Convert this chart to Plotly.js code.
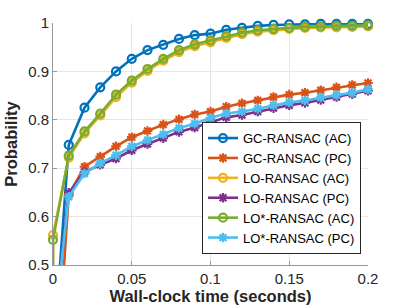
<!DOCTYPE html>
<html>
<head>
<meta charset="utf-8">
<script src="https://cdn.plot.ly/plotly-3.0.1.min.js"></script>
<style>html,body{margin:0;padding:0;background:#fff;}#chart{width:407px;height:305px;}</style>
</head>
<body>
<div id="chart"></div>
<script>
// Wall-clock time samples (seconds)
const time = [0, 0.01, 0.02, 0.03, 0.04, 0.05, 0.06, 0.07, 0.08, 0.09, 0.10,
              0.11, 0.12, 0.13, 0.14, 0.15, 0.16, 0.17, 0.18, 0.19, 0.20];
// LO-RANSAC (AC) and LO*-RANSAC (AC) start with an extra sample at t = 0
const timeLoAC = [0].concat(time);

const gcAC  = [0.30, 0.748, 0.825, 0.867, 0.900, 0.926, 0.944, 0.955, 0.967, 0.975, 0.978,
               0.986, 0.990, 0.994, 0.996, 0.997, 0.997, 0.998, 0.998, 0.998, 0.998];
const gcPC  = [0.16, 0.645, 0.703, 0.724, 0.745, 0.764, 0.777, 0.790, 0.801, 0.811, 0.817,
               0.827, 0.834, 0.840, 0.847, 0.852, 0.856, 0.861, 0.867, 0.872, 0.876];
const loAC  = [0.0, 0.562, 0.722, 0.772, 0.809, 0.847, 0.877, 0.901, 0.922, 0.940, 0.952, 0.960,
               0.969, 0.977, 0.982, 0.985, 0.988, 0.990, 0.991, 0.991, 0.992, 0.993];
const loPC  = [0.35, 0.649, 0.692, 0.707, 0.720, 0.737, 0.750, 0.762, 0.775, 0.784, 0.795,
               0.805, 0.810, 0.817, 0.824, 0.830, 0.835, 0.841, 0.847, 0.853, 0.860];
const losAC = [0.0, 0.552, 0.726, 0.776, 0.813, 0.852, 0.881, 0.905, 0.926, 0.944, 0.956, 0.964,
               0.973, 0.980, 0.985, 0.988, 0.990, 0.992, 0.993, 0.994, 0.994, 0.995];
const losPC = [0.35, 0.641, 0.689, 0.710, 0.727, 0.745, 0.758, 0.770, 0.783, 0.792, 0.804,
               0.813, 0.817, 0.823, 0.830, 0.836, 0.840, 0.846, 0.851, 0.856, 0.863];

const names = ['GC-RANSAC (AC)', 'GC-RANSAC (PC)', 'LO-RANSAC (AC)',
               'LO-RANSAC (PC)', 'LO*-RANSAC (AC)', 'LO*-RANSAC (PC)'];
const xTicks = [0, 0.05, 0.1, 0.15, 0.2];
const xTickText = ['0', '0.05', '0.1', '0.15', '0.2'];
const yTicks = [0.5, 0.6, 0.7, 0.8, 0.9, 1];
const yTickText = ['0.5', '0.6', '0.7', '0.8', '0.9', '1'];

const colors = ['#0072BD', '#D95319', '#EDB120', '#7E2F8E', '#77AC30', '#4DBEEE'];
const xs = [time, time, timeLoAC, time, timeLoAC, time];
const ys = [gcAC, gcPC, loAC, loPC, losAC, losPC];
const symbols = ['circle-open', 'asterisk-open', 'circle-open', 'asterisk-open', 'circle-open', 'asterisk-open'];

const traces = names.map((n, i) => ({
  type: 'scatter',
  mode: 'lines+markers',
  name: n,
  x: xs[i],
  y: ys[i],
  cliponaxis: false,
  line: {color: colors[i], width: 2.6},
  marker: {
    symbol: symbols[i],
    size: 8,
    color: colors[i],
    line: {color: colors[i], width: 2.2}
  }
}));

const tickFont = {family: 'Liberation Sans, Arial, sans-serif', size: 15, color: '#262626'};
const titleFont = {family: 'Liberation Sans, Arial, sans-serif', size: 16.5, color: '#262626', weight: 'bold'};

const layout = {
  width: 407, height: 305,
  margin: {l: 53, r: 39, t: 23, b: 40, pad: 0},
  paper_bgcolor: '#fff',
  plot_bgcolor: '#fff',
  showlegend: true,
  xaxis: {
    range: [0, 0.2],
    tickvals: xTicks, ticktext: xTickText,
    ticks: 'inside', ticklen: 4, tickcolor: '#999',
    showline: true, linecolor: '#999', linewidth: 1,
    showgrid: true, gridcolor: '#e6e6e6', gridwidth: 1,
    zeroline: false,
    tickfont: tickFont,
    title: {text: '<b>Wall-clock time (seconds)</b>', font: titleFont, standoff: 0},
    automargin: false
  },
  yaxis: {
    range: [0.5, 1],
    tickvals: yTicks, ticktext: yTickText,
    ticks: 'inside', ticklen: 4, tickcolor: '#999',
    showline: true, linecolor: '#999', linewidth: 1,
    showgrid: true, gridcolor: '#e6e6e6', gridwidth: 1,
    zeroline: false,
    tickfont: tickFont,
    title: {text: '<b>Probability</b>', font: titleFont, standoff: 6},
    automargin: false
  },
  legend: {
    x: 0.473, y: 0.045, xanchor: 'left', yanchor: 'bottom',
    bgcolor: '#fff', bordercolor: '#262626', borderwidth: 1,
    font: {family: 'Liberation Sans, Arial, sans-serif', size: 13, color: '#000'},
    itemwidth: 30, tracegroupgap: 0
  }
};

Plotly.newPlot('chart', traces, layout, {displayModeBar: false, staticPlot: true});
</script>
</body>
</html>
